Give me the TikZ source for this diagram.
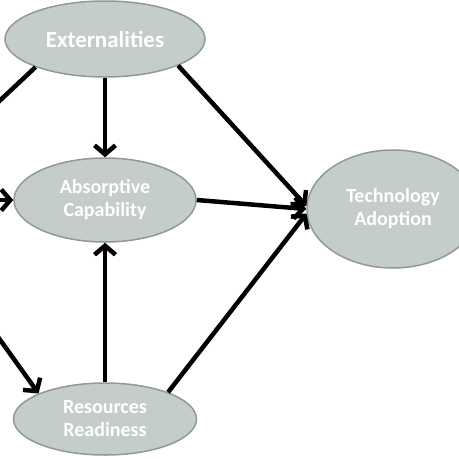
\documentclass[tikz,border=0pt]{standalone}
\usepackage{fontspec}
\setmainfont{Carlito}
\usetikzlibrary{shapes.geometric,arrows.meta}
\definecolor{ellfill}{HTML}{C5CDCB}
\definecolor{elldraw}{HTML}{8E9A97}
\tikzset{
  ell/.style={ellipse, draw=elldraw, line width=1.5pt, fill=ellfill, inner sep=0pt,
    text=white, font=\bfseries\fontsize{20}{23}\selectfont, align=center},
  arr/.style={line width=4.5pt, -{Straight Barb[length=9pt,width=21pt]}}
}
\begin{document}
\begin{tikzpicture}[x=1pt,y=-1pt]
\useasboundingbox (0,0) rectangle (459,459);
\node[ell, minimum width=200pt, minimum height=76pt, font=\bfseries\fontsize{23}{26}\selectfont] (ext) at (105,39) {Externalities};
\node[ell, minimum width=182pt, minimum height=84pt] (abs) at (105,200) {Absorptive\\Capability};
\node[ell, minimum width=183pt, minimum height=72pt] (res) at (105,419) {Resources\\Readiness};
\node[ell, minimum width=172pt, minimum height=118pt] (tech) at (393,209) {Technology\\Adoption};
\coordinate (offE) at (-40,138);
\coordinate (offA) at (-40,200);
\coordinate (offR) at (-40,284);
\draw[arr] (ext.south) -- (abs.north);
\draw[arr] (ext.-20) -- (tech.178);
\draw[arr] (abs.east) -- (tech.180);
\draw[arr] (res.north) -- (abs.south);
\draw[arr] (res.23) -- (tech.183);
\draw[arr] (ext.202) -- (offE);
\draw[arr] (offA) -- (abs.west);
\draw[arr] (offR) -- (res.159);
\end{tikzpicture}
\end{document}
